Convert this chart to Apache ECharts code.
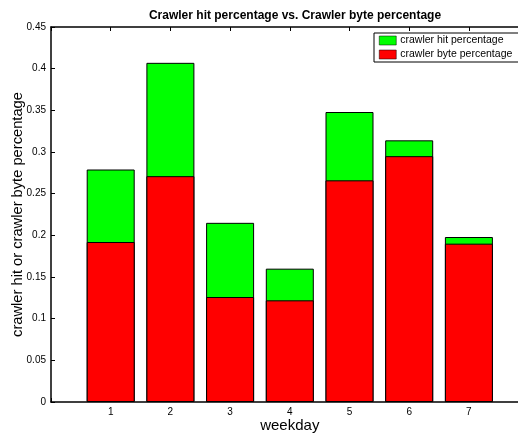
<!DOCTYPE html>
<html>
<head>
<meta charset="utf-8">
<script src="https://cdn.jsdelivr.net/npm/echarts@6/dist/echarts.min.js"></script>
<style>
  html, body { margin: 0; padding: 0; background: #fff; }
  #chart { width: 518px; height: 433px; }
</style>
</head>
<body>
<div id="chart"></div>
<script>
// weekday categories and the two percentages
var weekdays = [1, 2, 3, 4, 5, 6, 7];
var hitPct  = [0.279, 0.407, 0.215, 0.160, 0.348, 0.314, 0.198];
var bytePct = [0.192, 0.271, 0.126, 0.122, 0.266, 0.295, 0.190];
var yTicks = ['0', '0.05', '0.1', '0.15', '0.2', '0.25', '0.3', '0.35', '0.4', '0.45'];

var chart = echarts.init(document.getElementById('chart'));

function pairs(vals) {
  var out = [];
  for (var i = 0; i < weekdays.length; i++) {
    out.push([weekdays[i], vals[i]]);
  }
  return out;
}

var font = 'Liberation Sans, Arial, sans-serif';

var option = {
  animation: false,
  title: {
    text: 'Crawler hit percentage vs. Crawler byte percentage',
    left: 290,
    textAlign: 'center',
    top: 5,
    textStyle: { fontFamily: font, fontSize: 12, fontWeight: 'bold', color: '#000' }
  },
  legend: {
    orient: 'vertical',
    left: 374,
    top: 33,
    padding: [2, 8, 2, 5],
    itemWidth: 17,
    itemHeight: 9,
    itemGap: 3,
    backgroundColor: '#fff',
    borderColor: '#000',
    borderWidth: 1,
    textStyle: { fontFamily: font, fontSize: 10.5, color: '#000', padding: [0, 0, 0, -1] },
    data: [
      { name: 'crawler hit percentage', icon: 'rect', itemStyle: { borderColor: '#000', borderWidth: 0.5 } },
      { name: 'crawler byte percentage', icon: 'rect', itemStyle: { borderColor: '#000', borderWidth: 0.5 } }
    ]
  },
  grid: { left: 51, top: 27, width: 477.6, height: 375, containLabel: false, outerBoundsMode: 'none' },
  xAxis: [
    {
      type: 'value',
      min: 0,
      max: 8,
      interval: 1,
      name: 'weekday',
      nameLocation: 'middle',
      nameGap: 16,
      nameMoveOverlap: false,
      nameTextStyle: { fontFamily: font, fontSize: 15, color: '#000' },
      axisLine: { lineStyle: { color: '#000', width: 1.5 } },
      axisTick: { inside: true, length: 4, lineStyle: { color: '#000' } },
      axisLabel: {
        margin: 5,
        fontFamily: font,
        fontSize: 10,
        color: '#000',
        formatter: function (v) { return (v >= 1 && v <= 7) ? String(v) : ''; }
      },
      splitLine: { show: false }
    },
    {
      type: 'value',
      position: 'top',
      min: 0,
      max: 8,
      interval: 1,
      axisLine: { lineStyle: { color: '#000', width: 1.5 } },
      axisTick: { inside: true, length: 4, lineStyle: { color: '#000' } },
      axisLabel: { show: false },
      splitLine: { show: false }
    }
  ],
  yAxis: {
    type: 'value',
    min: 0,
    max: 0.45,
    interval: 0.05,
    name: 'crawler hit or crawler byte percentage',
    nameLocation: 'middle',
    nameGap: 26,
    nameMoveOverlap: false,
    nameTextStyle: { fontFamily: font, fontSize: 14.7, color: '#000' },
    axisLine: { show: true, lineStyle: { color: '#000', width: 1.5 } },
    axisTick: { show: true, inside: true, length: 4, lineStyle: { color: '#000' } },
    axisLabel: {
      margin: 5,
      fontFamily: font,
      fontSize: 10,
      color: '#000',
      formatter: function (v) { return yTicks[Math.round(v / 0.05)]; }
    },
    splitLine: { show: false }
  },
  series: [
    {
      name: 'crawler hit percentage',
      type: 'bar',
      barWidth: 48,
      barGap: '-100%',
      itemStyle: { color: '#00ff00', borderColor: '#000', borderWidth: 1 },
      data: pairs(hitPct)
    },
    {
      name: 'crawler byte percentage',
      type: 'bar',
      barWidth: 48,
      barGap: '-100%',
      itemStyle: { color: '#ff0000', borderColor: '#000', borderWidth: 1 },
      data: pairs(bytePct)
    }
  ]
};

chart.setOption(option);
</script>
</body>
</html>
